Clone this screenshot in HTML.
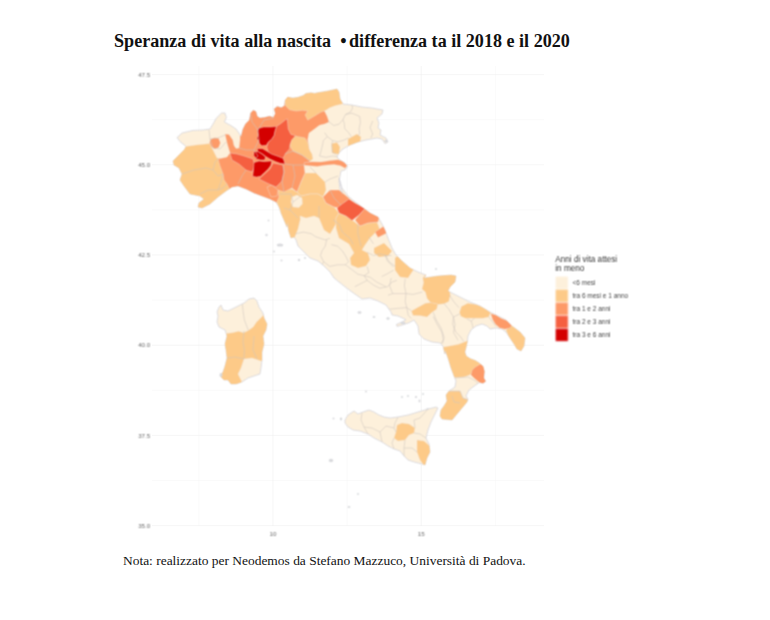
<!DOCTYPE html>
<html lang="it"><head><meta charset="utf-8"><title>Speranza di vita alla nascita</title>
<style>
html,body{margin:0;padding:0;background:#fff}
body{width:770px;height:620px;position:relative;overflow:hidden;font-family:"Liberation Serif","Times New Roman",serif;color:#111}
h1{position:absolute;left:114px;top:28.5px;margin:0;font-size:18.1px;line-height:24px;font-weight:bold;white-space:pre;letter-spacing:0px}
p.nota{position:absolute;left:123px;top:551.5px;margin:0;font-size:13.45px;line-height:18px;white-space:pre}
</style></head><body>
<h1>Speranza di vita alla nascita  <span style="letter-spacing:-2px">•</span> differenza ta il 2018 e il 2020</h1>
<svg width="770" height="620" viewBox="0 0 770 620" style="position:absolute;left:0;top:0">
<defs><clipPath id="land">
<path d="M173.0,161.0 L177.0,157.0 L184.4,149.6 L186.0,146.4 L180.0,141.6 L177.0,137.6 L182.0,133.0 L193.0,130.4 L203.0,130.0 L210.0,129.0 L213.0,124.0 L216.4,118.0 L221.6,113.0 L225.0,113.0 L226.4,117.6 L224.4,122.0 L231.0,125.6 L236.0,129.0 L239.0,133.0 L241.0,136.9 L242.9,129.2 L245.5,124.0 L249.4,120.1 L250.7,112.9 L253.3,110.3 L255.9,111.6 L257.2,116.2 L259.8,118.1 L264.4,117.5 L269.5,116.2 L273.4,117.5 L275.4,113.6 L274.1,109.0 L277.3,106.4 L281.2,107.7 L284.5,105.8 L285.1,100.6 L287.7,97.3 L292.9,98.0 L298.1,97.3 L303.3,95.4 L305.9,93.4 L311.1,92.8 L315.0,93.4 L316.0,93.0 L328.0,91.0 L337.0,89.0 L339.0,92.0 L340.0,99.0 L343.0,104.0 L352.0,105.0 L362.0,107.0 L372.0,108.0 L383.0,110.0 L382.0,114.0 L377.0,118.0 L379.0,123.0 L378.0,128.0 L381.0,130.0 L380.0,135.0 L386.0,138.0 L388.0,142.0 L385.0,143.6 L382.0,139.0 L377.0,138.0 L372.0,139.0 L366.0,140.0 L358.0,142.0 L350.0,145.0 L343.0,149.0 L339.0,153.0 L337.0,157.0 L340.0,160.0 L345.0,163.0 L347.6,166.4 L345.0,170.0 L341.0,171.0 L340.0,176.0 L339.0,182.0 L340.0,189.0 L343.0,195.0 L339.0,178.0 L342.0,188.0 L348.0,196.0 L354.0,201.0 L362.0,207.0 L370.0,213.0 L378.0,217.0 L382.0,224.0 L385.0,230.0 L388.0,238.0 L392.0,248.0 L396.0,255.0 L402.0,261.0 L410.0,268.0 L418.0,272.0 L426.0,275.0 L424.0,278.0 L438.0,276.0 L451.0,275.0 L456.0,276.0 L455.0,282.0 L450.0,287.0 L448.0,291.0 L458.0,296.0 L470.0,302.0 L480.0,306.0 L490.0,312.0 L498.0,316.0 L506.0,320.0 L512.0,326.0 L520.0,332.0 L525.0,338.0 L524.0,346.0 L521.0,351.0 L517.0,349.0 L514.0,344.0 L510.0,338.0 L506.0,332.0 L502.0,329.0 L496.0,328.0 L490.0,329.0 L487.0,326.0 L482.0,324.0 L476.0,326.0 L471.0,330.0 L468.0,336.0 L467.5,341 L466.2,346.9 L464.9,352.1 L466.2,356 L470.1,358.6 L475.3,360.5 L479.2,363.1 L483.1,366.4 L484.4,371.6 L483.8,378.1 L485.7,381.3 L483.1,383.2 L479.2,382.6 L473.0,387.0 L469.0,390.0 L466.0,396.0 L468.0,399.0 L467.0,402.0 L462.0,408.0 L457.0,414.0 L452.0,420.0 L442.0,419.0 L440.0,416.0 L441.0,410.0 L444.0,406.0 L447.0,401.0 L446.0,395.0 L449.0,391.0 L455.0,387.0 L456.0,381.0 L454.0,376.0 L451.0,368.0 L448.0,358.0 L445.0,350.0 L445.0,354.0 L443.0,346.0 L440.0,343.0 L432.0,342.0 L424.0,339.0 L419.0,334.0 L418.0,326.0 L414.0,320.0 L409.0,322.8 L403.0,324.8 L397.0,326.4 L396.4,324.4 L402.0,322.0 L406.0,319.6 L398.0,316.0 L392.0,315.0 L391.0,312.0 L386.0,305.0 L378.0,301.0 L370.0,298.0 L362.0,299.0 L352.0,292.0 L344.0,286.0 L334.0,278.0 L330.0,272.0 L324.0,266.0 L318.0,261.0 L310.0,258.0 L304.0,252.0 L298.0,246.0 L296.0,240.0 L294.0,237.0 L291.0,238.0 L289.0,232.0 L287.0,222.0 L287.0,227.0 L284.0,220.0 L281.0,213.0 L279.0,207.0 L276.0,202.0 L270.0,199.0 L262.0,196.0 L254.0,193.0 L246.0,189.0 L238.0,186.0 L232.0,187.0 L226.0,191.0 L218.0,197.0 L210.0,204.0 L202.0,208.0 L198.0,207.0 L199.0,203.0 L204.0,199.0 L200.0,196.0 L190.0,194.0 L184.0,186.0 L180.0,180.0 L182.0,174.0 L179.0,168.0 L174.0,165.0Z"/>
<path d="M345.0,420.0 L348.0,415.0 L354.0,411.0 L358.0,414.0 L363.0,412.0 L369.0,410.0 L374.0,412.0 L379.0,415.0 L384.0,417.0 L390.0,418.0 L398.0,417.0 L408.0,415.0 L418.0,412.0 L428.0,409.0 L436.0,407.0 L438.0,408.0 L435.0,414.0 L431.0,422.0 L428.0,430.0 L426.0,438.0 L429.0,444.0 L430.0,452.0 L427.0,458.0 L425.0,465.0 L422.0,464.0 L414.0,462.0 L408.0,460.0 L404.0,456.0 L400.0,451.0 L394.0,449.0 L388.0,446.0 L382.0,442.0 L374.0,438.0 L368.0,434.0 L360.0,431.0 L353.0,430.0 L348.0,427.0 L345.0,423.0Z"/>
<path d="M221.0,305.0 L223.0,310.0 L228.0,311.0 L236.0,307.0 L244.0,303.0 L249.0,299.0 L254.0,298.0 L257.0,301.0 L259.0,307.0 L263.0,313.0 L264.0,318.0 L267.0,324.0 L266.0,330.0 L263.0,336.0 L264.0,344.0 L262.0,352.0 L262.0,360.0 L261.0,368.0 L260.0,374.0 L254.0,376.0 L248.0,378.0 L242.0,382.0 L236.0,384.0 L231.0,384.0 L228.0,380.0 L224.0,380.0 L220.0,376.0 L223.0,372.0 L225.0,366.0 L227.0,358.0 L226.0,350.0 L225.0,344.0 L227.0,336.0 L225.0,330.0 L219.0,327.0 L217.0,322.0 L218.0,316.0 L217.0,312.0 L219.0,307.0Z"/>
</clipPath><filter id="soft" x="-2%" y="-2%" width="104%" height="104%" color-interpolation-filters="sRGB"><feConvolveMatrix order="3" kernelMatrix="1 2 1 2 4 2 1 2 1" divisor="16" edgeMode="none" preserveAlpha="false"/></filter><filter id="soft2" x="-2%" y="-10%" width="104%" height="120%" color-interpolation-filters="sRGB"><feConvolveMatrix order="3" kernelMatrix="1 2 1 2 4 2 1 2 1" divisor="16" edgeMode="none" preserveAlpha="false"/></filter></defs>
<g stroke="#f0f0f0" stroke-width="0.6" fill="none">
<path d="M152,119.7H544" stroke="#f5f5f5" stroke-width="0.5"/>
<path d="M152,209.9H544" stroke="#f5f5f5" stroke-width="0.5"/>
<path d="M152,300.1H544" stroke="#f5f5f5" stroke-width="0.5"/>
<path d="M152,390.3H544" stroke="#f5f5f5" stroke-width="0.5"/>
<path d="M152,480.5H544" stroke="#f5f5f5" stroke-width="0.5"/>
<path d="M198.9,66V526" stroke="#f5f5f5" stroke-width="0.5"/>
<path d="M347.1,66V526" stroke="#f5f5f5" stroke-width="0.5"/>
<path d="M495.4,66V526" stroke="#f5f5f5" stroke-width="0.5"/>
<path d="M152,74.6H544"/>
<path d="M152,164.8H544"/>
<path d="M152,255.0H544"/>
<path d="M152,345.2H544"/>
<path d="M152,435.4H544"/>
<path d="M152,525.6H544"/>
<path d="M273,66V526"/>
<path d="M421.2,66V526"/>
</g>
<g filter="url(#soft)">
<path d="M173.0,161.0 L177.0,157.0 L184.4,149.6 L186.0,146.4 L180.0,141.6 L177.0,137.6 L182.0,133.0 L193.0,130.4 L203.0,130.0 L210.0,129.0 L213.0,124.0 L216.4,118.0 L221.6,113.0 L225.0,113.0 L226.4,117.6 L224.4,122.0 L231.0,125.6 L236.0,129.0 L239.0,133.0 L241.0,136.9 L242.9,129.2 L245.5,124.0 L249.4,120.1 L250.7,112.9 L253.3,110.3 L255.9,111.6 L257.2,116.2 L259.8,118.1 L264.4,117.5 L269.5,116.2 L273.4,117.5 L275.4,113.6 L274.1,109.0 L277.3,106.4 L281.2,107.7 L284.5,105.8 L285.1,100.6 L287.7,97.3 L292.9,98.0 L298.1,97.3 L303.3,95.4 L305.9,93.4 L311.1,92.8 L315.0,93.4 L316.0,93.0 L328.0,91.0 L337.0,89.0 L339.0,92.0 L340.0,99.0 L343.0,104.0 L352.0,105.0 L362.0,107.0 L372.0,108.0 L383.0,110.0 L382.0,114.0 L377.0,118.0 L379.0,123.0 L378.0,128.0 L381.0,130.0 L380.0,135.0 L386.0,138.0 L388.0,142.0 L385.0,143.6 L382.0,139.0 L377.0,138.0 L372.0,139.0 L366.0,140.0 L358.0,142.0 L350.0,145.0 L343.0,149.0 L339.0,153.0 L337.0,157.0 L340.0,160.0 L345.0,163.0 L347.6,166.4 L345.0,170.0 L341.0,171.0 L340.0,176.0 L339.0,182.0 L340.0,189.0 L343.0,195.0 L339.0,178.0 L342.0,188.0 L348.0,196.0 L354.0,201.0 L362.0,207.0 L370.0,213.0 L378.0,217.0 L382.0,224.0 L385.0,230.0 L388.0,238.0 L392.0,248.0 L396.0,255.0 L402.0,261.0 L410.0,268.0 L418.0,272.0 L426.0,275.0 L424.0,278.0 L438.0,276.0 L451.0,275.0 L456.0,276.0 L455.0,282.0 L450.0,287.0 L448.0,291.0 L458.0,296.0 L470.0,302.0 L480.0,306.0 L490.0,312.0 L498.0,316.0 L506.0,320.0 L512.0,326.0 L520.0,332.0 L525.0,338.0 L524.0,346.0 L521.0,351.0 L517.0,349.0 L514.0,344.0 L510.0,338.0 L506.0,332.0 L502.0,329.0 L496.0,328.0 L490.0,329.0 L487.0,326.0 L482.0,324.0 L476.0,326.0 L471.0,330.0 L468.0,336.0 L467.5,341 L466.2,346.9 L464.9,352.1 L466.2,356 L470.1,358.6 L475.3,360.5 L479.2,363.1 L483.1,366.4 L484.4,371.6 L483.8,378.1 L485.7,381.3 L483.1,383.2 L479.2,382.6 L473.0,387.0 L469.0,390.0 L466.0,396.0 L468.0,399.0 L467.0,402.0 L462.0,408.0 L457.0,414.0 L452.0,420.0 L442.0,419.0 L440.0,416.0 L441.0,410.0 L444.0,406.0 L447.0,401.0 L446.0,395.0 L449.0,391.0 L455.0,387.0 L456.0,381.0 L454.0,376.0 L451.0,368.0 L448.0,358.0 L445.0,350.0 L445.0,354.0 L443.0,346.0 L440.0,343.0 L432.0,342.0 L424.0,339.0 L419.0,334.0 L418.0,326.0 L414.0,320.0 L409.0,322.8 L403.0,324.8 L397.0,326.4 L396.4,324.4 L402.0,322.0 L406.0,319.6 L398.0,316.0 L392.0,315.0 L391.0,312.0 L386.0,305.0 L378.0,301.0 L370.0,298.0 L362.0,299.0 L352.0,292.0 L344.0,286.0 L334.0,278.0 L330.0,272.0 L324.0,266.0 L318.0,261.0 L310.0,258.0 L304.0,252.0 L298.0,246.0 L296.0,240.0 L294.0,237.0 L291.0,238.0 L289.0,232.0 L287.0,222.0 L287.0,227.0 L284.0,220.0 L281.0,213.0 L279.0,207.0 L276.0,202.0 L270.0,199.0 L262.0,196.0 L254.0,193.0 L246.0,189.0 L238.0,186.0 L232.0,187.0 L226.0,191.0 L218.0,197.0 L210.0,204.0 L202.0,208.0 L198.0,207.0 L199.0,203.0 L204.0,199.0 L200.0,196.0 L190.0,194.0 L184.0,186.0 L180.0,180.0 L182.0,174.0 L179.0,168.0 L174.0,165.0Z" fill="#FDF0DB" stroke="#d0d0d8" stroke-width="0.7" stroke-linejoin="round"/>
<path d="M345.0,420.0 L348.0,415.0 L354.0,411.0 L358.0,414.0 L363.0,412.0 L369.0,410.0 L374.0,412.0 L379.0,415.0 L384.0,417.0 L390.0,418.0 L398.0,417.0 L408.0,415.0 L418.0,412.0 L428.0,409.0 L436.0,407.0 L438.0,408.0 L435.0,414.0 L431.0,422.0 L428.0,430.0 L426.0,438.0 L429.0,444.0 L430.0,452.0 L427.0,458.0 L425.0,465.0 L422.0,464.0 L414.0,462.0 L408.0,460.0 L404.0,456.0 L400.0,451.0 L394.0,449.0 L388.0,446.0 L382.0,442.0 L374.0,438.0 L368.0,434.0 L360.0,431.0 L353.0,430.0 L348.0,427.0 L345.0,423.0Z" fill="#FDF0DB" stroke="#d0d0d8" stroke-width="0.7" stroke-linejoin="round"/>
<path d="M221.0,305.0 L223.0,310.0 L228.0,311.0 L236.0,307.0 L244.0,303.0 L249.0,299.0 L254.0,298.0 L257.0,301.0 L259.0,307.0 L263.0,313.0 L264.0,318.0 L267.0,324.0 L266.0,330.0 L263.0,336.0 L264.0,344.0 L262.0,352.0 L262.0,360.0 L261.0,368.0 L260.0,374.0 L254.0,376.0 L248.0,378.0 L242.0,382.0 L236.0,384.0 L231.0,384.0 L228.0,380.0 L224.0,380.0 L220.0,376.0 L223.0,372.0 L225.0,366.0 L227.0,358.0 L226.0,350.0 L225.0,344.0 L227.0,336.0 L225.0,330.0 L219.0,327.0 L217.0,322.0 L218.0,316.0 L217.0,312.0 L219.0,307.0Z" fill="#FDF0DB" stroke="#d0d0d8" stroke-width="0.7" stroke-linejoin="round"/>
<g clip-path="url(#land)">
<path d="M170.0,156.0 L186.0,146.4 L196.0,145.0 L210.0,143.6 L213.0,150.0 L217.0,158.0 L225.0,159.0 L230.0,170.0 L228.0,180.0 L236.0,184.0 L230.0,194.0 L210.0,214.0 L170.0,214.0Z" fill="#FDCA88" stroke="#f3e6dc" stroke-width="0.4" stroke-linejoin="round"/>
<path d="M331.6,143.6 L337.0,142.4 L340.0,147.0 L339.0,154.4 L332.0,153.0Z" fill="#FDCA88" stroke="#f3e6dc" stroke-width="0.4" stroke-linejoin="round"/>
<path d="M348.0,139.0 L357.0,134.0 L361.0,137.0 L360.0,143.0 L348.0,147.0Z" fill="#FDCA88" stroke="#f3e6dc" stroke-width="0.4" stroke-linejoin="round"/>
<path d="M305.0,173.0 L316.0,173.0 L325.0,182.0 L326.0,190.0 L323.0,197.0 L318.0,194.0 L310.0,194.0 L301.0,196.0 L297.0,192.0 L301.0,182.0Z" fill="#FDCA88" stroke="#f3e6dc" stroke-width="0.4" stroke-linejoin="round"/>
<path d="M276.0,187.0 L282.0,190.0 L292.0,189.0 L297.0,192.0 L301.0,196.0 L310.0,194.0 L318.0,194.0 L323.0,197.0 L326.0,203.0 L334.0,207.0 L339.0,213.0 L336.0,218.0 L336.0,224.0 L330.0,234.0 L324.0,230.0 L319.0,218.0 L314.0,216.0 L306.0,218.0 L300.0,216.0 L300.4,219.0 L298.0,229.0 L294.8,237.0 L291.0,247.0 L286.0,247.0 L280.0,210.0 L274.0,196.0Z" fill="#FDCA88" stroke="#f3e6dc" stroke-width="0.4" stroke-linejoin="round"/>
<path d="M336.0,218.0 L339.0,213.0 L346.0,216.0 L352.0,220.0 L360.0,226.0 L368.0,223.0 L377.0,222.0 L380.0,230.0 L375.0,233.0 L370.0,238.0 L365.0,245.0 L362.0,250.0 L368.0,253.0 L370.0,260.0 L366.0,266.0 L358.0,268.0 L351.0,265.0 L350.0,258.0 L354.0,253.0 L349.0,244.0 L339.0,238.0 L336.0,228.0Z" fill="#FDCA88" stroke="#f3e6dc" stroke-width="0.4" stroke-linejoin="round"/>
<path d="M374.0,248.0 L384.0,243.0 L392.0,251.0 L388.0,256.0 L379.0,257.0 L374.0,253.0Z" fill="#FDCA88" stroke="#f3e6dc" stroke-width="0.4" stroke-linejoin="round"/>
<path d="M395.0,258.0 L399.0,255.0 L414.0,269.0 L408.0,278.0 L400.0,277.0 L395.0,270.0Z" fill="#FDCA88" stroke="#f3e6dc" stroke-width="0.4" stroke-linejoin="round"/>
<path d="M422.8,278.0 L426.2,273.4 L459.7,273.4 L459.7,279.6 L453.5,285.0 L449.6,289.7 L450.3,295.2 L448.8,301.4 L444.1,303.7 L437.9,304.5 L430.9,303.0 L427.0,298.3 L425.4,292.1 L422.0,288.9 L423.6,282.7Z" fill="#FDCA88" stroke="#f3e6dc" stroke-width="0.4" stroke-linejoin="round"/>
<path d="M411.4,311.1 L417.6,307.6 L425.4,303.3 L430.9,302.6 L437.9,304.2 L436.6,309.2 L431.7,312.6 L427.0,317.0 L420.7,315.7 L413.0,315.4Z" fill="#FDCA88" stroke="#f3e6dc" stroke-width="0.4" stroke-linejoin="round"/>
<path d="M459.5,312.3 L461.4,306.5 L467.9,303.2 L476.4,304.5 L484.2,307.8 L490.6,312.7 L488.7,316.9 L482.9,318.2 L473.8,318.2 L465.3,318.2 L460.8,316.2Z" fill="#FDCA88" stroke="#f3e6dc" stroke-width="0.4" stroke-linejoin="round"/>
<path d="M506.0,330.0 L512.0,324.0 L530.0,336.0 L526.0,354.0 L514.0,350.0Z" fill="#FDCA88" stroke="#f3e6dc" stroke-width="0.4" stroke-linejoin="round"/>
<path d="M438,349 L444,347 L452,345.5 L458.5,344.3 L465,341.7 L472,339 L492,352 L492,372 L472,372.5 L470.1,374.8 L464.9,376.8 L458.4,377.4 L453.2,377.4 L448,378 L440,360Z" fill="#FDCA88" stroke="#f3e6dc" stroke-width="0.4" stroke-linejoin="round"/>
<path d="M446.0,391.0 L460.0,391.0 L463.0,398.0 L470.0,400.0 L462.0,410.0 L452.0,422.0 L438.0,420.0 L440.0,410.0Z" fill="#FDCA88" stroke="#f3e6dc" stroke-width="0.4" stroke-linejoin="round"/>
<path d="M397.0,425.0 L402.0,423.0 L409.0,424.0 L415.0,428.0 L414.0,433.0 L409.0,435.0 L405.0,440.0 L398.0,441.0 L394.0,438.0 L396.0,432.0Z" fill="#FDCA88" stroke="#f3e6dc" stroke-width="0.4" stroke-linejoin="round"/>
<path d="M417.0,440.0 L424.0,441.0 L432.0,448.0 L430.0,458.0 L425.0,467.0 L420.0,460.0 L417.0,452.0Z" fill="#FDCA88" stroke="#f3e6dc" stroke-width="0.4" stroke-linejoin="round"/>
<path d="M223.0,334.0 L225.8,333.6 L232.2,332.8 L238.6,331.2 L243.6,332.8 L248.4,330.4 L253.2,327.0 L256.4,322.2 L261.2,317.4 L265.6,313.0 L270.0,324.0 L266.0,360.0 L261.0,361.0 L252.0,358.0 L244.0,359.0 L241.0,368.0 L238.0,374.0 L242.0,382.0 L236.0,386.0 L228.0,386.0 L218.0,376.0 L223.0,350.0Z" fill="#FDCA88" stroke="#f3e6dc" stroke-width="0.4" stroke-linejoin="round"/>
<path d="M292.0,197.0 L297.0,195.0 L302.0,198.0 L302.4,204.0 L299.0,207.6 L293.0,207.0 L291.0,202.0Z" fill="#FDF0DB" stroke="#f3e6dc" stroke-width="0.4" stroke-linejoin="round"/>
<path d="M225.0,134.0 L229.0,134.4 L232.8,140.0 L234.0,145.6 L236.0,148.4 L239.0,148.0 L240.0,140.0 L240.0,130.0 L240.0,102.0 L274.0,98.0 L274.5,98.0 L284.3,95.4 L309.0,104.5 L324.5,111.0 L327.1,116.2 L329.1,122.0 L324.5,124.0 L319.4,125.3 L314.2,129.2 L309.0,133.1 L307.7,139.5 L311.0,160.0 L310.0,161.6 L304.0,165.0 L305.0,173.0 L301.0,182.0 L297.0,192.0 L292.0,188.0 L284.0,192.0 L278.0,190.0 L279.0,197.0 L276.0,204.0 L270.0,212.0 L250.0,199.0 L230.0,190.0 L227.0,184.0 L224.0,180.0 L223.0,174.0 L220.0,166.0 L218.0,159.0 L227.0,157.0 L230.0,153.0 L227.0,143.0Z" fill="#FD9A68" stroke="#f3e6dc" stroke-width="0.4" stroke-linejoin="round"/>
<path d="M284.3,99.3 L286.9,94.1 L296.0,94.1 L303.8,94.1 L309.0,90.2 L318.1,88.9 L327.1,88.2 L334.9,86.3 L340.1,87.6 L340.8,94.1 L342.1,99.3 L344.7,103.2 L340.1,104.5 L334.9,105.8 L329.7,107.7 L325.8,110.3 L320.6,112.3 L314.2,116.2 L307.7,120.1 L305.1,114.9 L307.7,111.0 L302.5,110.3 L296.0,111.0 L289.5,109.7 L285.6,105.8Z" fill="#FDCA88" stroke="#f3e6dc" stroke-width="0.4" stroke-linejoin="round"/>
<path d="M294,136 L300,137 L305,138 L308,143 L309,149 L312,154 L313,159 L310,161 L302,155 L293,151 L290,146 L291,140Z" fill="#FDCA88" stroke="#f3e6dc" stroke-width="0.4" stroke-linejoin="round"/>
<path d="M210.3,139.6 L214.2,137.7 L218.7,138.3 L220.4,142.9 L218.7,147.4 L214.8,149.1 L211.3,146.8 L209.6,142.9Z" fill="#FD9A68" stroke="#f3e6dc" stroke-width="0.4" stroke-linejoin="round"/>
<path d="M304.2,162.7 L311.9,161.7 L321.0,161.9 L330.1,160.6 L337.9,159.7 L343.1,161.3 L347.3,165.6 L345.1,168.2 L340.5,165.8 L334.0,164.5 L324.9,165.2 L317.1,166.4 L309.4,165.8 L304.2,165.3Z" fill="#FD9A68" stroke="#f3e6dc" stroke-width="0.4" stroke-linejoin="round"/>
<path d="M323.0,197.0 L330.0,190.0 L339.0,190.0 L344.0,194.0 L350.0,199.0 L344.0,203.0 L339.0,208.0 L334.0,207.0 L326.0,203.0Z" fill="#FD9A68" stroke="#f3e6dc" stroke-width="0.4" stroke-linejoin="round"/>
<path d="M355.0,220.0 L365.0,208.0 L370.0,212.0 L380.0,215.0 L378.0,222.0 L368.0,223.0 L360.0,226.0Z" fill="#FD9A68" stroke="#f3e6dc" stroke-width="0.4" stroke-linejoin="round"/>
<path d="M375.0,232.0 L384.0,226.0 L387.0,233.0 L378.0,237.4Z" fill="#FD9A68" stroke="#f3e6dc" stroke-width="0.4" stroke-linejoin="round"/>
<path d="M267.0,187.0 L272.0,185.0 L278.0,190.0 L277.0,196.0 L271.0,197.0Z" fill="#FD9A68" stroke="#f3e6dc" stroke-width="0.4" stroke-linejoin="round"/>
<path d="M490.6,313.6 L495.8,314.9 L501.0,318.2 L507.5,320.8 L512.1,324.7 L510.1,327.9 L504.9,329.2 L499.7,327.9 L495.2,324.0 L492.6,319.5Z" fill="#FD9A68" stroke="#f3e6dc" stroke-width="0.4" stroke-linejoin="round"/>
<path d="M472.1,370.3 L475.3,367 L480.5,364 L485.5,366 L488,371.6 L487,378.1 L489,382 L483.1,385 L477.9,381.3 L474,378.1 L470.8,374.8Z" fill="#FD9A68" stroke="#f3e6dc" stroke-width="0.4" stroke-linejoin="round"/>
<path d="M276.4,126.6 L280.9,123.5 L285.5,119.8 L287.3,118.9 L287.7,123.5 L288.2,128.9 L290.9,134.4 L295.5,135.7 L291.8,139.8 L290.0,144.4 L289.5,148.9 L285.5,153.5 L282.7,158.9 L278.2,157.1 L271.8,155.3 L268.2,151.6 L266.8,147.1 L268.2,142.1 L271.8,138.9 L274.1,135.3 L275.0,130.7Z" fill="#F55F40" stroke="#f3e6dc" stroke-width="0.4" stroke-linejoin="round"/>
<path d="M230.0,153.0 L237.0,154.0 L244.0,156.0 L253.0,159.0 L255.0,166.0 L252.0,172.0 L246.0,170.0 L239.0,164.0 L232.0,160.0Z" fill="#F55F40" stroke="#f3e6dc" stroke-width="0.4" stroke-linejoin="round"/>
<path d="M259.0,179.0 L270.0,169.0 L273.0,163.0 L283.0,165.0 L284.0,172.0 L282.0,181.0 L276.0,187.0 L267.0,183.0Z" fill="#F55F40" stroke="#f3e6dc" stroke-width="0.4" stroke-linejoin="round"/>
<path d="M337.0,208.0 L342.0,204.0 L349.0,199.0 L355.0,203.0 L365.0,208.4 L359.0,215.0 L352.0,220.4 L346.0,216.0 L339.0,213.0Z" fill="#F55F40" stroke="#f3e6dc" stroke-width="0.4" stroke-linejoin="round"/>
<path d="M258.2,128.5 L263.6,127.1 L270.9,127.1 L276.4,126.6 L275.0,130.7 L274.1,135.3 L271.8,138.9 L268.2,142.1 L266.4,145.3 L261.8,145.7 L259.5,143.5 L258.6,139.8 L256.8,138.9 L258.2,135.3 L257.7,131.6Z" fill="#D40000" stroke="#f3e6dc" stroke-width="0.4" stroke-linejoin="round"/>
<path d="M257.3,148.5 L262.7,148.7 L267.3,151.5 L271.8,154.2 L278.2,156.4 L283.2,158.5 L285.0,163.9 L280.0,163.2 L275.5,161.6 L270.0,159.1 L265.9,156.6 L261.8,153.6 L257.7,151.5Z" fill="#D40000" stroke="#f3e6dc" stroke-width="0.4" stroke-linejoin="round"/>
<path d="M254.1,151.5 L258.2,151.8 L262.0,154.0 L265.5,156.9 L264.7,160.0 L260.5,160.0 L256.4,158.9 L253.8,155.3Z" fill="#D40000" stroke="#f3e6dc" stroke-width="0.4" stroke-linejoin="round"/>
<path d="M254.1,162.5 L259.1,161.1 L264.5,161.6 L271.8,160.9 L270.9,165.3 L268.2,168.9 L264.5,172.5 L260.5,176.2 L256.4,177.1 L252.7,176.2 L253.6,168.9Z" fill="#D40000" stroke="#f3e6dc" stroke-width="0.4" stroke-linejoin="round"/>
<g fill="none" stroke="#cfc7bf" stroke-width="0.55" stroke-linejoin="round">
<path d="M327.9,121.0 L333.8,125.5 L339.0,124.2 L342.9,119.7 L345.5,114.5 L350.6,111.9 L352.6,108.0 L351.9,105.1"/>
<path d="M345.5,114.5 L351.9,113.2 L359.7,116.4 L360.4,122.3 L359.1,128.8 L359.7,134.0 L357.1,136.6"/>
<path d="M342.9,119.7 L344.2,122.9 L344.8,128.8 L348.7,132.7 L351.3,136.6"/>
<path d="M324.7,132.7 L327.3,136.6 L323.4,140.5 L322.1,146.9 L320.8,152.1 L319.5,156.0"/>
<path d="M327.3,136.6 L332.5,140.5 L337.7,141.8 L342.9,140.5 L348.7,137.9"/>
<path d="M332.5,140.5 L331.8,145.6 L332.5,152.1 L336.4,154.7"/>
<path d="M372.7,121.0 L370.1,127.5 L372.7,134.0 L370.8,137.9"/>
<path d="M319.5,156.0 L326.0,157.3 L332.5,156.0 L337.7,156.7"/>
<path d="M182.0,174.0 L194.0,170.0 L206.0,168.0 L213.0,170.0 L218.0,176.0 L223.0,174.0"/>
<path d="M213.0,170.0 L215.0,162.0 L218.0,159.0"/>
<path d="M200.0,194.0 L208.0,190.0 L218.0,190.0 L223.0,188.0 L227.0,184.0"/>
<path d="M218.0,190.0 L221.0,182.0 L223.0,174.0"/>
<path d="M209.0,130.0 L210.0,139.0 L213.0,148.0"/>
<path d="M213.0,148.0 L220.0,149.0 L226.0,142.0"/>
<path d="M210.0,139.0 L218.0,138.0 L225.0,135.0"/>
<path d="M238.0,184.0 L242.0,176.0 L246.0,170.0"/>
<path d="M239.0,148.0 L246.0,150.0 L254.0,150.0 L258.0,156.0 L255.0,159.0"/>
<path d="M250.0,110.0 L252.0,122.0 L258.0,130.0 L259.0,140.0 L254.0,150.0"/>
<path d="M258.0,130.0 L264.0,120.0 L274.0,118.0"/>
<path d="M285.0,154.0 L293.0,151.0 L302.0,155.0 L310.0,161.0"/>
<path d="M285.0,164.0 L293.0,165.0 L304.0,165.0"/>
<path d="M293.0,165.0 L295.0,176.0 L292.0,188.0"/>
<path d="M283.0,165.0 L284.0,172.0 L282.0,181.0 L284.0,192.0"/>
<path d="M316.0,173.0 L310.0,167.0"/>
<path d="M325.0,182.0 L330.0,179.0 L338.0,176.0"/>
<path d="M330.0,190.0 L334.0,198.0 L341.0,205.0"/>
<path d="M280.0,194.0 L291.0,194.0 L293.0,202.0 L290.0,210.0 L284.0,208.0"/>
<path d="M293.0,202.0 L301.0,196.0"/>
<path d="M290.0,210.0 L298.0,218.0"/>
<path d="M319.0,206.0 L319.0,218.0"/>
<path d="M295.6,233.7 L303.4,232.1 L311.2,233.7 L315.8,236.8 L320.5,238.4 L325.2,239.9 L329.8,238.4"/>
<path d="M326.7,239.9 L325.2,246.2 L322.1,250.8 L320.5,255.5 L323.6,261.7 L322.1,264.8"/>
<path d="M331.4,244.6 L337.6,246.2 L342.3,250.8 L345.4,255.5 L348.5,261.7 L345.4,264.8"/>
<path d="M323.6,261.7 L329.8,266.4 L337.6,264.8 L345.4,264.8 L351.7,269.5 L357.9,274.2 L364.1,275.7 L367.2,280.4"/>
<path d="M367.2,266.4 L368.8,272.6 L364.1,275.7 L370.3,277.3 L376.6,282.0 L385.9,286.7"/>
<path d="M354.8,286.7 L361.0,283.5 L367.2,280.4 L373.5,285.1 L379.7,288.2 L387.5,286.7 L392.1,282.0 L396.8,280.4"/>
<path d="M367.2,252.4 L373.5,255.5 L379.7,253.9 L385.9,255.5 L389.0,261.7 L395.3,266.4"/>
<path d="M368.8,236.8 L373.5,243.8"/>
<path d="M385.9,255.5 L391.4,255.5"/>
<path d="M357.9,224.3 L357.9,233.7 L361.0,246.2"/>
<path d="M333.0,219.7 L339.2,224.3 L342.3,232.1 L350.1,238.4 L353.2,244.6"/>
<path d="M393.5,270.2 L388.0,273.4 L381.8,276.5"/>
<path d="M405.2,278.8 L404.4,285.8 L406.0,293.6 L405.2,301.4 L406.7,307.6"/>
<path d="M391.2,278.0 L389.6,285.8 L392.7,293.6 L388.0,295.2"/>
<path d="M392.7,293.6 L406.0,293.6 L413.0,294.4 L422.3,292.1"/>
<path d="M389.6,309.2 L397.4,308.4 L406.7,307.6 L411.4,310.7"/>
<path d="M406.7,307.6 L408.3,315.4 L411.4,318.5"/>
<path d="M433.2,312.3 L436.3,320.1 L441.0,327.9 L444.1,337.2 L442.6,343.5"/>
<path d="M453.5,317.0 L455.0,324.8 L453.5,332.6 L458.1,340.3"/>
<path d="M449.6,295.2 L453.5,301.4 L458.9,307.6"/>
<path d="M444.1,303.7 L448.8,309.2 L453.5,317.0 L459.7,313.9"/>
<path d="M384.9,254.7 L387.3,260.9 L393.5,267.1"/>
<path d="M453.5,316.5 L452.7,324.3 L455.8,332.1 L460.5,336.7 L463.6,341.4"/>
<path d="M471.4,321.2 L473.0,327.4 L474.5,330.5"/>
<path d="M474.5,318.0 L471.4,321.2 L466.7,318.8"/>
<path d="M488.5,316.5 L493.2,322.7 L496.3,326.6"/>
<path d="M433.2,316.5 L437.1,324.3 L441.8,332.1 L443.4,339.8 L440.2,344.5"/>
<path d="M455.0,378.0 L468.0,377.0 L474.0,380.0 L478.0,383.0"/>
<path d="M449.0,391.0 L460.0,391.0 L463.0,398.0 L468.0,400.0"/>
<path d="M452.0,396.0 L454.0,402.0 L460.0,403.0"/>
<path d="M362.0,413.0 L361.0,420.0 L364.0,427.0 L368.0,434.0"/>
<path d="M364.0,427.0 L372.0,428.0 L380.0,432.0 L382.0,442.0"/>
<path d="M380.0,432.0 L386.0,426.0 L394.0,428.0 L396.0,432.0"/>
<path d="M394.0,428.0 L395.0,423.0 L398.0,417.0"/>
<path d="M394.0,438.0 L392.0,443.0 L394.0,449.0"/>
<path d="M415.0,428.0 L414.0,420.0 L420.0,418.0 L428.0,409.0"/>
<path d="M414.0,433.0 L420.0,434.0 L426.0,438.0"/>
<path d="M405.0,440.0 L404.0,448.0 L404.0,456.0"/>
<path d="M404.0,448.0 L412.0,448.0 L417.0,452.0"/>
<path d="M242.4,304.4 L243.2,312.0 L244.4,320.0 L248.4,330.4"/>
<path d="M244.0,331.0 L243.0,342.0 L244.4,350.0 L244.0,359.0"/>
<path d="M254.0,336.0 L253.0,350.0 L257.0,359.0"/>
<path d="M227.0,358.0 L235.0,357.0 L244.0,359.0"/>
</g></g>
<ellipse cx="280" cy="245" rx="3.2" ry="1.6" fill="#d9dadd"/>
<ellipse cx="266.5" cy="235" rx="1.2" ry="1.2" fill="#d9dadd"/>
<ellipse cx="268.5" cy="220.5" rx="0.9" ry="0.9" fill="#d9dadd"/>
<ellipse cx="274" cy="251.5" rx="1" ry="1" fill="#d9dadd"/>
<ellipse cx="281.5" cy="260.5" rx="1" ry="1" fill="#d9dadd"/>
<ellipse cx="299" cy="260" rx="1.2" ry="1.2" fill="#d9dadd"/>
<ellipse cx="305" cy="258" rx="1" ry="1" fill="#d9dadd"/>
<ellipse cx="359.5" cy="312.5" rx="2" ry="1.2" fill="#d9dadd"/>
<ellipse cx="374" cy="317" rx="1.4" ry="1" fill="#d9dadd"/>
<ellipse cx="388" cy="318.5" rx="1.6" ry="1.2" fill="#d9dadd"/>
<ellipse cx="403" cy="323" rx="2.6" ry="1.2" fill="#d9dadd"/>
<ellipse cx="331" cy="460.5" rx="2.2" ry="1.8" fill="#d9dadd"/>
<ellipse cx="333.5" cy="418.5" rx="1" ry="1" fill="#d9dadd"/>
<ellipse cx="341" cy="419" rx="1.2" ry="1.4" fill="#d9dadd"/>
<ellipse cx="349" cy="507" rx="1.4" ry="1" fill="#d9dadd"/>
<ellipse cx="358" cy="494" rx="1" ry="1" fill="#d9dadd"/>
<ellipse cx="366" cy="391.5" rx="1" ry="1" fill="#d9dadd"/>
<ellipse cx="402" cy="397" rx="1" ry="1" fill="#d9dadd"/>
<ellipse cx="408" cy="396" rx="1" ry="1" fill="#d9dadd"/>
<ellipse cx="416" cy="397" rx="1.2" ry="1" fill="#d9dadd"/>
<ellipse cx="419.5" cy="401" rx="1" ry="1.4" fill="#d9dadd"/>
<ellipse cx="423" cy="394" rx="1" ry="1" fill="#d9dadd"/>
<ellipse cx="427.5" cy="409" rx="1" ry="1" fill="#d9dadd"/>
<ellipse cx="386" cy="141" rx="1.6" ry="1.2" fill="#d9dadd"/>
<ellipse cx="436" cy="269" rx="1" ry="1" fill="#d9dadd"/>
<ellipse cx="221" cy="375" rx="1.5" ry="2" fill="#d9dadd"/>
</g>
<g font-family="Liberation Sans, Arial, sans-serif" font-size="6.2" fill="#6a6a6a" filter="url(#soft)">
<text x="150.2" y="76.8" text-anchor="end">47.5</text>
<text x="150.2" y="167.0" text-anchor="end">45.0</text>
<text x="150.2" y="257.2" text-anchor="end">42.5</text>
<text x="150.2" y="347.4" text-anchor="end">40.0</text>
<text x="150.2" y="437.6" text-anchor="end">37.5</text>
<text x="150.2" y="527.8" text-anchor="end">35.0</text>
<text x="273" y="536" text-anchor="middle">10</text>
<text x="421.2" y="536" text-anchor="middle">15</text>
</g>
<g font-family="Liberation Sans, Arial, sans-serif" fill="#333" filter="url(#soft2)">
<text x="555.3" y="261.9" font-size="8.2">Anni di vita attesi</text>
<text x="555.3" y="271.2" font-size="8.2">in meno</text>
<rect x="555.6" y="276.5" width="12.3" height="12.4" fill="#FDF0DB" filter="url(#soft)"/>
<text x="572.5" y="285.1" font-size="6.5" fill="#444">&lt;6 mesi</text>
<rect x="555.6" y="289.55" width="12.3" height="12.4" fill="#FDCA88" filter="url(#soft)"/>
<text x="572.5" y="298.15" font-size="6.5" fill="#444">tra 6 mesi e 1 anno</text>
<rect x="555.6" y="302.6" width="12.3" height="12.4" fill="#FD9A68" filter="url(#soft)"/>
<text x="572.5" y="311.2" font-size="6.5" fill="#444">tra 1 e 2 anni</text>
<rect x="555.6" y="315.65" width="12.3" height="12.4" fill="#F55F40" filter="url(#soft)"/>
<text x="572.5" y="324.25" font-size="6.5" fill="#444">tra 2 e 3 anni</text>
<rect x="555.6" y="328.7" width="12.3" height="12.4" fill="#D40000" filter="url(#soft)"/>
<text x="572.5" y="337.3" font-size="6.5" fill="#444">tra 3 e 6 anni</text>
</g>
</svg>
<p class="nota">Nota: realizzato per Neodemos da Stefano Mazzuco, Università di Padova.</p>
</body></html>
